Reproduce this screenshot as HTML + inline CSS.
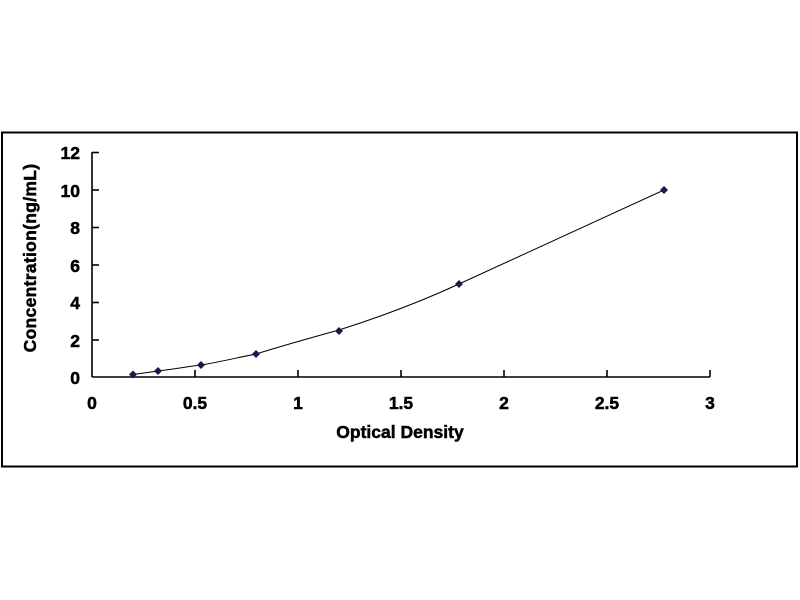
<!DOCTYPE html>
<html><head><style>
body{margin:0;background:#fff;}
svg{display:block;font-family:"Liberation Sans",Arial,sans-serif;font-weight:bold;}
</style></head><body>
<svg width="800" height="600" viewBox="0 0 800 600">
<rect x="2" y="132.5" width="795" height="334" fill="#fff" stroke="#000" stroke-width="2"/>
<g stroke="#000" stroke-width="1.6" fill="none">
<line x1="92" y1="152" x2="92" y2="377"/>
<line x1="92" y1="377" x2="710" y2="377"/>
<line x1="92" y1="152.5" x2="99" y2="152.5"/>
<line x1="92" y1="190" x2="99" y2="190"/>
<line x1="92" y1="227.5" x2="99" y2="227.5"/>
<line x1="92" y1="265" x2="99" y2="265"/>
<line x1="92" y1="302.5" x2="99" y2="302.5"/>
<line x1="92" y1="340" x2="99" y2="340"/>
<line x1="195" y1="370" x2="195" y2="377"/>
<line x1="298" y1="370" x2="298" y2="377"/>
<line x1="401" y1="370" x2="401" y2="377"/>
<line x1="504" y1="370" x2="504" y2="377"/>
<line x1="607" y1="370" x2="607" y2="377"/>
<line x1="710" y1="370" x2="710" y2="377"/>
</g>
<g font-size="17.5" text-anchor="end" fill="#000" stroke="#000" stroke-width="0.5">
<text x="80" y="159">12</text><text x="80" y="197">10</text><text x="80" y="234">8</text>
<text x="80" y="272">6</text><text x="80" y="309">4</text><text x="80" y="347">2</text><text x="80" y="384">0</text>
</g>
<g font-size="17.5" text-anchor="middle" fill="#000" stroke="#000" stroke-width="0.5">
<text x="92" y="409">0</text><text x="195" y="409">0.5</text><text x="298" y="409">1</text>
<text x="401" y="409">1.5</text><text x="504" y="409">2</text><text x="607" y="409">2.5</text><text x="710" y="409">3</text>
<text x="400" y="438">Optical Density</text>
<text transform="translate(36,258) rotate(-90)" letter-spacing="0.3">Concentration(ng/mL)</text>
</g>
<path d="M133,374.5 C145,373 150,372 158,371 C175,369 185,367 201,365 C220,362 240,357 256,354 C285,345 310,338 339,330 C380,317 420,302 459,284 C530,252 600,219 664,190" fill="none" stroke="#000" stroke-width="1"/>
<g fill="#1a1a4a">
<path d="M133,370.5 l4,4 l-4,4 l-4,-4z"/>
<path d="M158,367 l4,4 l-4,4 l-4,-4z"/>
<path d="M201,361 l4,4 l-4,4 l-4,-4z"/>
<path d="M256,350 l4,4 l-4,4 l-4,-4z"/>
<path d="M339,327 l4,4 l-4,4 l-4,-4z"/>
<path d="M459,280 l4,4 l-4,4 l-4,-4z"/>
<path d="M664,186 l4,4 l-4,4 l-4,-4z"/>
</g>
</svg>
</body></html>
